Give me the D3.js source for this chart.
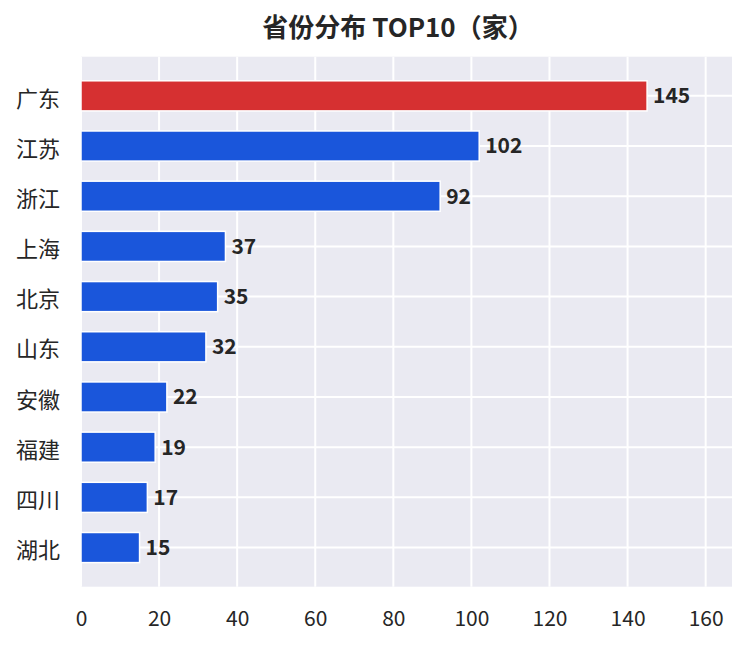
<!DOCTYPE html>
<html>
<head>
<meta charset="utf-8">
<script src="https://cdn.jsdelivr.net/npm/d3@7"></script>
<style>
  body { margin: 0; background: #fff; }
  text { font-family: "Noto Sans CJK SC", "Noto Sans", sans-serif; fill: #262626; }
</style>
</head>
<body>
<div id="plot"></div>
<script>
var provinces = ['广东', '江苏', '浙江', '上海', '北京', '山东', '安徽', '福建', '四川', '湖北'];
var counts = [145, 102, 92, 37, 35, 32, 22, 19, 17, 15];
var xTicks = [0, 20, 40, 60, 80, 100, 120, 140, 160];
var titleText = '省份分布 TOP10（家）';

var width = 746, height = 646;
var plotLeft = 81, plotRight = 732, plotTop = 56.7, plotBottom = 586.7;

var svg = d3.select('#plot')
    .append('svg')
    .attr('width', width)
    .attr('height', height);

var x = d3.scaleLinear()
    .domain([0, d3.max(counts) * 1.15])
    .range([plotLeft, plotRight]);

// category index -> y, like matplotlib barh with inverted axis
var y = d3.scaleLinear()
    .domain([-0.78, provinces.length - 1 + 0.78])
    .range([plotTop, plotBottom]);

var barH = (y(0.3) - y(-0.3));

svg.append('rect')
    .attr('x', plotLeft)
    .attr('y', plotTop)
    .attr('width', plotRight - plotLeft)
    .attr('height', plotBottom - plotTop)
    .attr('fill', '#eaeaf2');

// grid
svg.append('g')
    .selectAll('line')
    .data(xTicks)
    .enter()
    .append('line')
    .attr('x1', function (d) { return x(d); })
    .attr('x2', function (d) { return x(d); })
    .attr('y1', plotTop)
    .attr('y2', plotBottom)
    .attr('stroke', '#fff')
    .attr('stroke-width', 2);

svg.append('g')
    .selectAll('line')
    .data(provinces)
    .enter()
    .append('line')
    .attr('x1', plotLeft)
    .attr('x2', plotRight)
    .attr('y1', function (d, i) { return y(i); })
    .attr('y2', function (d, i) { return y(i); })
    .attr('stroke', '#fff')
    .attr('stroke-width', 2);

// bars
svg.append('g')
    .selectAll('rect')
    .data(counts)
    .enter()
    .append('rect')
    .attr('x', x(0))
    .attr('y', function (d, i) { return y(i) - barH / 2; })
    .attr('width', function (d) { return x(d) - x(0); })
    .attr('height', barH)
    .attr('fill', function (d, i) { return i === 0 ? '#d63031' : '#1a56db'; })
    .attr('stroke', '#fff')
    .attr('stroke-width', 1.5);

// value labels
svg.append('g')
    .selectAll('text')
    .data(counts)
    .enter()
    .append('text')
    .attr('x', function (d) { return x(d) + 6; })
    .attr('y', function (d, i) { return y(i); })
    .attr('dy', '0.35em')
    .attr('font-size', 21)
    .attr('font-weight', 'bold')
    .text(function (d) { return d; });

// axes
var xAxis = svg.append('g')
    .attr('transform', 'translate(0,' + plotBottom + ')')
    .call(d3.axisBottom(x).tickValues(xTicks).tickSize(0).tickPadding(24));
xAxis.select('.domain').remove();
xAxis.selectAll('text')
    .attr('font-size', 21)
    .attr('font-family', '"Noto Sans CJK SC", "Noto Sans", sans-serif')
    .attr('fill', '#262626');

svg.append('g')
    .selectAll('text')
    .data(provinces)
    .enter()
    .append('text')
    .attr('x', plotLeft - 21)
    .attr('y', function (d, i) { return y(i) + 3; })
    .attr('dy', '0.35em')
    .attr('text-anchor', 'end')
    .attr('font-size', 22)
    .text(function (d) { return d; });

svg.append('text')
    .attr('x', 398)
    .attr('y', 37)
    .attr('text-anchor', 'middle')
    .attr('font-size', 26)
    .attr('font-weight', 'bold')
    .text(titleText);
</script>
</body>
</html>
